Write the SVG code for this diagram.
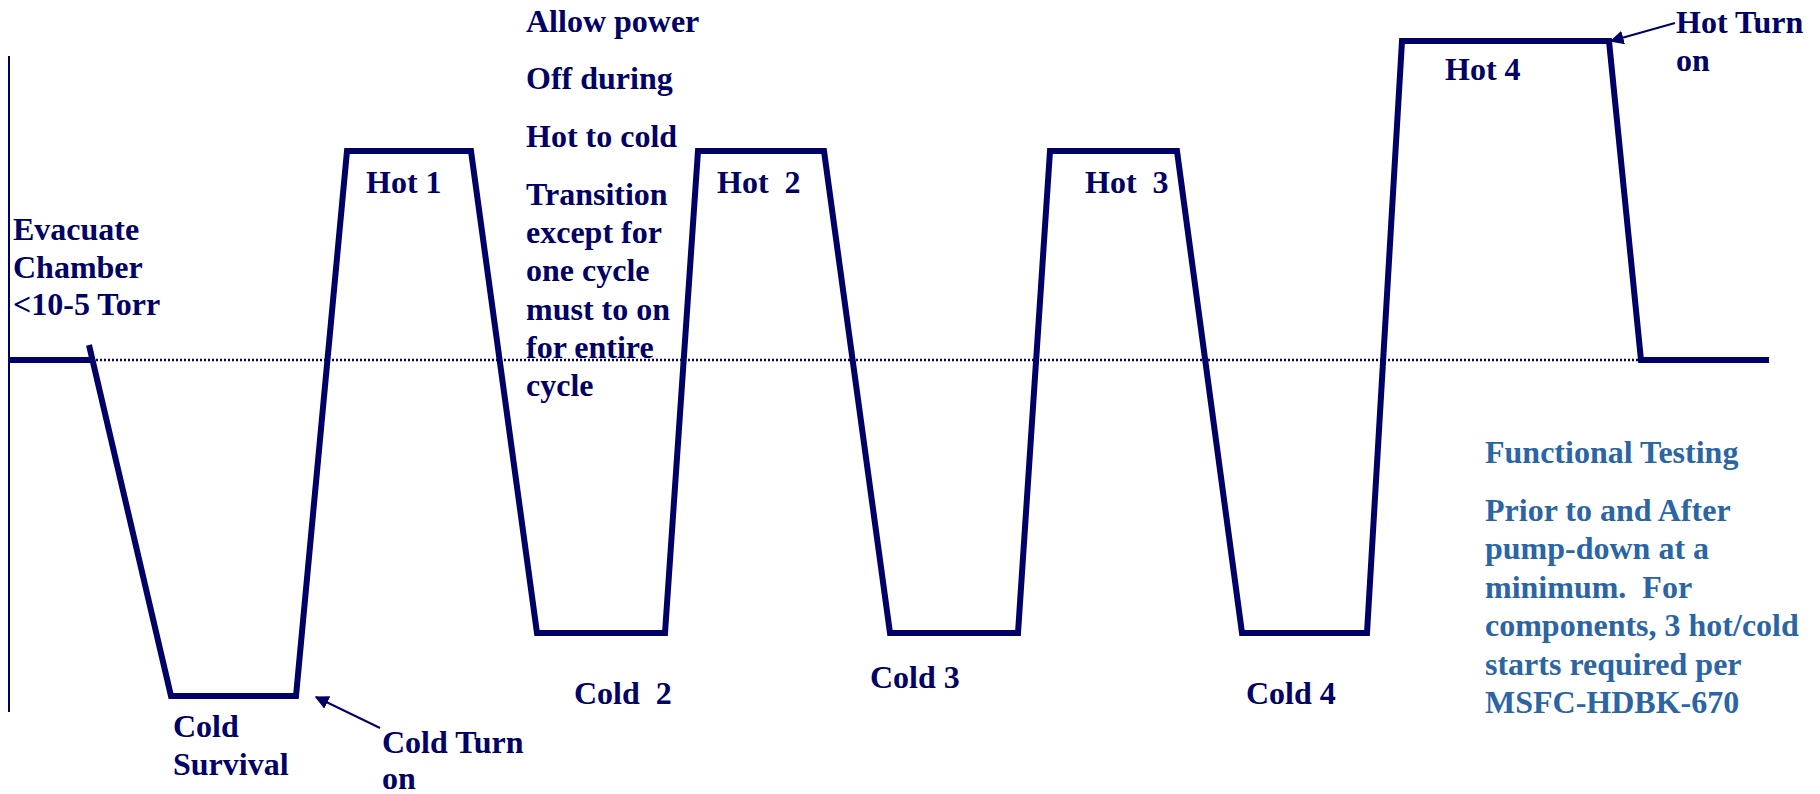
<svg xmlns="http://www.w3.org/2000/svg" width="1820" height="794" viewBox="0 0 1820 794">
  <style>
    .lbl { font-family: "Liberation Serif", "Times New Roman", serif; font-weight: bold; font-size: 32px; fill: #000066; white-space: pre; }
    .note { font-family: "Liberation Serif", "Times New Roman", serif; font-weight: bold; font-size: 32px; fill: #2b65a3; white-space: pre; }
    .wave { fill: none; stroke: #000066; stroke-width: 6; stroke-linejoin: miter; stroke-linecap: butt; }
    .axis { stroke: #000066; stroke-width: 2; fill: none; }
    .ambient { stroke: #000066; stroke-width: 2.5; stroke-dasharray: 2 2; fill: none; }
    .pointer { stroke: #000066; stroke-width: 2; fill: none; marker-end: url(#tip); }
  </style>
  <defs>
    <marker id="tip" viewBox="0 0 10 10" refX="9" refY="5" markerWidth="14" markerHeight="14" markerUnits="userSpaceOnUse" orient="auto">
      <path d="M0,0 L10,5 L0,10 z" fill="#000066"/>
    </marker>
  </defs>

  <rect width="1820" height="794" fill="#ffffff"/>

  <!-- axes and ambient reference -->
  <g id="axes">
    <line class="axis" x1="9" y1="56" x2="9" y2="712"/>
    <line class="ambient" x1="96" y1="360" x2="1642" y2="360"/>
  </g>

  <!-- temperature profile -->
  <g id="profile">
    <line class="wave" x1="9" y1="360" x2="90" y2="360"/>
    <polyline class="wave" points="89,345 171,696 296,696 347,151 471,151 537,633 665,633 698,151 824,151 890,633 1018,633 1050,151 1177,151 1242,633 1367,633 1402,41 1609,41 1641,360 1769,360"/>
  </g>

  <!-- callout pointers -->
  <g id="connectors">
    <line class="pointer" x1="380" y1="728" x2="316" y2="697"/>
    <line class="pointer" x1="1675" y1="23" x2="1611" y2="41"/>
  </g>

  <g id="evacuate">
    <text class="lbl" x="13" y="240">Evacuate</text>
    <text class="lbl" x="13" y="278">Chamber</text>
    <text class="lbl" x="13" y="315">&lt;10-5 Torr</text>
  </g>

  <g id="power-note">
    <text class="lbl" x="526" y="32">Allow power</text>
    <text class="lbl" x="526" y="89">Off during</text>
    <text class="lbl" x="526" y="147">Hot to cold</text>
    <text class="lbl" x="526" y="205">Transition</text>
    <text class="lbl" x="526" y="243">except for</text>
    <text class="lbl" x="526" y="281">one cycle</text>
    <text class="lbl" x="526" y="320">must to on</text>
    <text class="lbl" x="526" y="358">for entire</text>
    <text class="lbl" x="526" y="396">cycle</text>
  </g>

  <g id="hot1"><text class="lbl" x="366" y="193">Hot 1</text></g>
  <g id="hot2"><text class="lbl" x="717" y="193">Hot  2</text></g>
  <g id="hot3"><text class="lbl" x="1085" y="193">Hot  3</text></g>
  <g id="hot4"><text class="lbl" x="1445" y="80">Hot 4</text></g>

  <g id="hot-turn-on">
    <text class="lbl" x="1676" y="33">Hot Turn</text>
    <text class="lbl" x="1676" y="71">on</text>
  </g>

  <g id="cold-survival">
    <text class="lbl" x="173" y="737">Cold</text>
    <text class="lbl" x="173" y="775">Survival</text>
  </g>

  <g id="cold-turn-on">
    <text class="lbl" x="382" y="753">Cold Turn</text>
    <text class="lbl" x="382" y="789">on</text>
  </g>

  <g id="cold2"><text class="lbl" x="574" y="704">Cold  2</text></g>
  <g id="cold3"><text class="lbl" x="870" y="688">Cold 3</text></g>
  <g id="cold4"><text class="lbl" x="1246" y="704">Cold 4</text></g>

  <g id="functional-testing">
    <text class="note" x="1485" y="463">Functional Testing</text>
    <text class="note" x="1485" y="521">Prior to and After</text>
    <text class="note" x="1485" y="559">pump-down at a</text>
    <text class="note" x="1485" y="598">minimum.  For</text>
    <text class="note" x="1485" y="636">components, 3 hot/cold</text>
    <text class="note" x="1485" y="675">starts required per</text>
    <text class="note" x="1485" y="713">MSFC-HDBK-670</text>
  </g>
</svg>
